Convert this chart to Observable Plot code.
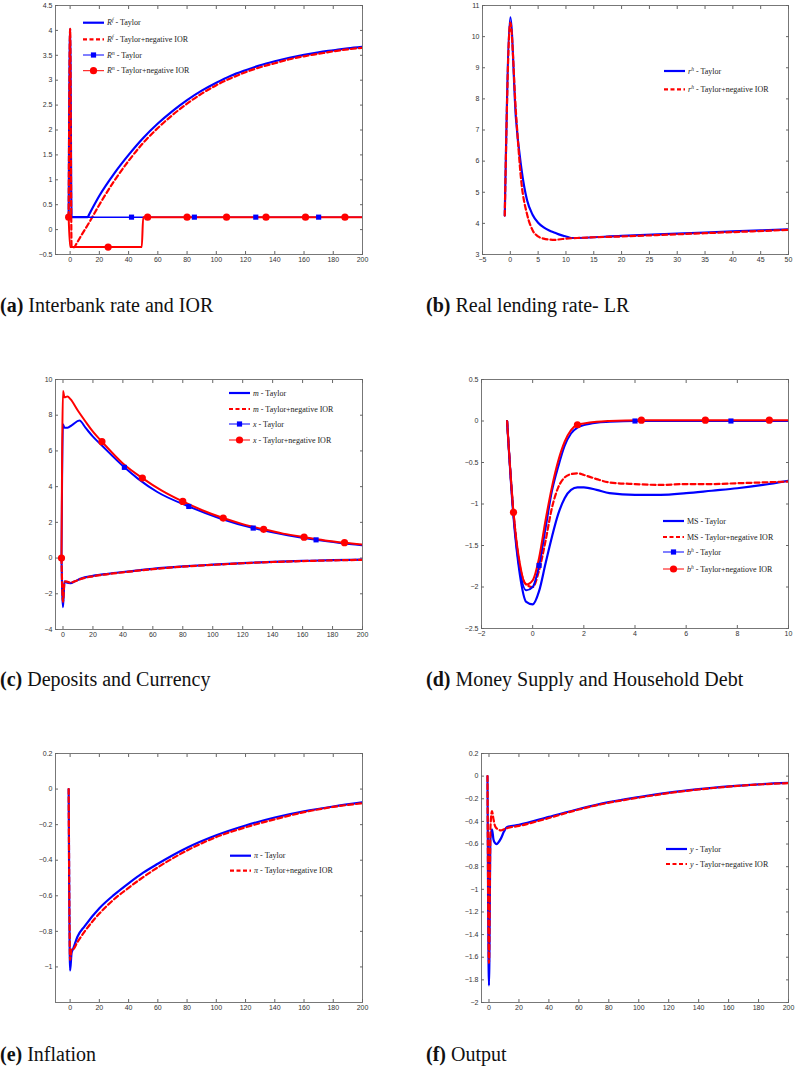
<!DOCTYPE html>
<html>
<head>
<meta charset="utf-8">
<script src="https://cdn.jsdelivr.net/npm/d3@7"></script>
<script src="https://cdn.jsdelivr.net/npm/@observablehq/plot@0.6"></script>
<style>
  body { margin: 0; background: #fff; }
  #wrap { position: relative; width: 796px; height: 1070px; overflow: hidden; }
  .cap { position: absolute; font-family: "Liberation Serif", "DejaVu Serif", serif; font-size: 20px; color: #111; white-space: nowrap; }
  .cap b { font-weight: bold; }
</style>
</head>
<body>
<div id="wrap"></div>
<script>
// ---- (a) Interbank rate and IOR
const aRfTaylorT = [-1, 0, 1, 12, 13, 20, 30, 40, 50, 60, 70, 80, 90, 100, 110, 120, 130, 140, 150, 160, 170, 180, 190, 200]
const aRfTaylor  = [0.25, 4.03, 0.25, 0.25, 0.305, 0.68, 1.12, 1.5, 1.84, 2.13, 2.38, 2.6, 2.79, 2.95, 3.09, 3.2, 3.3, 3.38, 3.45, 3.51, 3.56, 3.6, 3.64, 3.67]
const aRfNegT = [-1, 0, 1, 3, 4, 8, 13, 20, 30, 40, 50, 60, 70, 80, 90, 100, 110, 120, 130, 140, 150, 160, 170, 180, 190, 200]
const aRfNeg  = [0.25, 4.03, -0.35, -0.35, -0.3, -0.1, 0.14, 0.5, 0.97, 1.38, 1.74, 2.04, 2.3, 2.53, 2.73, 2.9, 3.04, 3.16, 3.26, 3.34, 3.42, 3.48, 3.53, 3.58, 3.62, 3.65]
const aRnTaylorT = [-1, 42, 85, 127, 170, 200]
const aRnTaylor  = [0.25, 0.25, 0.25, 0.25, 0.25, 0.25]
const aRnTaylorMarks = [42, 85, 127, 170]
const aRnNegT = [-1, 0, 26, 49, 50, 53, 80, 107, 134, 161, 188, 200]
const aRnNeg  = [0.25, -0.35, -0.35, -0.35, 0.25, 0.25, 0.25, 0.25, 0.25, 0.25, 0.25, 0.25]
const aRnNegMarks = [-1, 26, 53, 80, 107, 134, 161, 188]
const aXTicks = [0, 20, 40, 60, 80, 100, 120, 140, 160, 180, 200]
const aYTicks = [-0.5, 0, 0.5, 1, 1.5, 2, 2.5, 3, 3.5, 4, 4.5]

// ---- (b) Real lending rate
const bTaylorT = [-1, 0, 1, 2, 3, 4, 5, 6, 7, 8, 9, 10, 11, 20, 30, 40, 50]
const bTaylor  = [4.25, 10.62, 7.4, 5.75, 4.75, 4.28, 4.02, 3.87, 3.77, 3.7, 3.63, 3.58, 3.53, 3.6, 3.67, 3.74, 3.81]
const bNegT = [-1, 0, 1, 2, 3, 4, 5, 6, 7, 8, 9, 10, 12, 20, 30, 40, 50]
const bNeg  = [4.25, 10.45, 7.6, 5.3, 4.3, 3.78, 3.58, 3.51, 3.48, 3.47, 3.49, 3.51, 3.53, 3.58, 3.65, 3.72, 3.79]
const bXTicks = [-5, 0, 5, 10, 15, 20, 25, 30, 35, 40, 45, 50]
const bYTicks = [3, 4, 5, 6, 7, 8, 9, 10, 11]

// ---- (c) Deposits and Currency
const cMTaylorT = [-1, 0, 1, 2, 5, 8, 12, 20, 30, 40, 60, 80, 100, 120, 140, 160, 180, 200]
const cMTaylor  = [0, -2.75, -1.3, -1.35, -1.4, -1.3, -1.15, -1.0, -0.88, -0.78, -0.6, -0.47, -0.37, -0.28, -0.21, -0.16, -0.12, -0.09]
const cMNeg     = [0, -2.45, -1.35, -1.3, -1.38, -1.3, -1.17, -1.02, -0.9, -0.8, -0.62, -0.48, -0.38, -0.29, -0.22, -0.17, -0.13, -0.1]
const cXTaylorT = [-1, 0, 1, 3, 6, 11, 15, 20, 26, 41, 50, 63, 84, 105, 127, 150, 169, 185, 200]
const cXTaylor  = [0, 7.5, 7.3, 7.3, 7.45, 7.7, 7.3, 6.8, 6.3, 5.08, 4.45, 3.7, 2.89, 2.22, 1.68, 1.28, 1.02, 0.85, 0.72]
const cXTaylorMarks = [41, 84, 127, 169]
const cXNegT = [-1, 0, 1, 3, 5, 10, 15, 20, 26, 40, 53, 66, 80, 93, 107, 120, 134, 147, 161, 175, 188, 200]
const cXNeg  = [0, 9.35, 9.0, 9.05, 8.9, 8.25, 7.65, 7.08, 6.52, 5.3, 4.48, 3.78, 3.17, 2.68, 2.24, 1.9, 1.61, 1.37, 1.17, 0.99, 0.86, 0.76]
const cXNegMarks = [-1, 26, 53, 80, 107, 134, 161, 188]
const cXTicks = [0, 20, 40, 60, 80, 100, 120, 140, 160, 180, 200]
const cYTicks = [-4, -2, 0, 2, 4, 6, 8, 10]

// ---- (d) Money Supply and Household Debt
const dT = [-1, -0.75, -0.5, -0.25, 0, 0.25, 0.5, 0.75, 1, 1.25, 1.5, 1.75, 2, 2.5, 3, 4, 5, 6, 7, 8, 9, 10]
const dMSTaylor = [0, -1.15, -1.85, -2.18, -2.21, -2.05, -1.72, -1.4, -1.12, -0.93, -0.83, -0.8, -0.8, -0.83, -0.87, -0.89, -0.89, -0.87, -0.84, -0.81, -0.77, -0.72]
const dMSNeg    = [0, -1.1, -1.75, -1.97, -2.0, -1.8, -1.45, -1.05, -0.8, -0.68, -0.64, -0.63, -0.65, -0.7, -0.74, -0.76, -0.77, -0.76, -0.76, -0.75, -0.74, -0.73]
const dBTaylorT = [-1, -0.75, -0.5, -0.25, 0, 0.25, 0.5, 0.75, 1, 1.25, 1.5, 1.75, 2, 2.5, 3, 4, 5, 6, 7.75, 10]
const dBTaylor  = [0, -1.12, -1.8, -2.04, -2.0, -1.74, -1.3, -0.85, -0.55, -0.3, -0.15, -0.08, -0.05, -0.02, -0.01, 0.0, 0.0, 0.0, 0.0, 0.0]
const dBTaylorMarks = [0.25, 4, 7.75]
const dBNegT = [-1, -0.75, -0.5, -0.25, 0, 0.25, 0.5, 0.75, 1, 1.25, 1.5, 1.75, 2, 2.5, 3, 4.25, 5, 6.75, 8, 9.25, 10]
const dBNeg  = [0, -1.1, -1.72, -1.97, -1.92, -1.65, -1.2, -0.8, -0.48, -0.25, -0.11, -0.045, -0.03, -0.01, 0.0, 0.01, 0.01, 0.01, 0.01, 0.01, 0.01]
const dBNegMarks = [-0.75, 1.75, 4.25, 6.75, 9.25]
const dXTicks = [-2, 0, 2, 4, 6, 8, 10]
const dYTicks = [-2.5, -2, -1.5, -1, -0.5, 0, 0.5]

// ---- (e) Inflation
const eT = [-1, 0, 1, 2, 5, 10, 20, 30, 40, 50, 60, 80, 100, 120, 140, 160, 180, 200]
const eTaylor = [0, -1.02, -0.92, -0.9, -0.83, -0.77, -0.67, -0.595, -0.53, -0.47, -0.42, -0.33, -0.26, -0.205, -0.16, -0.125, -0.098, -0.075]
const eNeg    = [0, -0.96, -0.9, -0.9, -0.86, -0.8, -0.7, -0.62, -0.555, -0.495, -0.44, -0.345, -0.27, -0.215, -0.17, -0.13, -0.1, -0.08]
const eXTicks = [0, 20, 40, 60, 80, 100, 120, 140, 160, 180, 200]
const eYTicks = [-1, -0.8, -0.6, -0.4, -0.2, 0, 0.2]

// ---- (f) Output
const fT = [-1, 0, 1, 2, 3, 4, 5, 6, 8, 10, 12, 20, 40, 60, 80, 100, 120, 140, 160, 180, 200]
const fTaylor = [0, -1.85, -0.55, -0.47, -0.56, -0.59, -0.6, -0.59, -0.55, -0.49, -0.45, -0.43, -0.36, -0.29, -0.23, -0.185, -0.145, -0.115, -0.09, -0.072, -0.06]
const fNeg    = [0, -1.65, -0.45, -0.31, -0.38, -0.44, -0.46, -0.47, -0.48, -0.47, -0.46, -0.44, -0.37, -0.295, -0.235, -0.19, -0.15, -0.118, -0.093, -0.074, -0.062]
const fXTicks = [0, 20, 40, 60, 80, 100, 120, 140, 160, 180, 200]
const fYTicks = [-2, -1.8, -1.6, -1.4, -1.2, -1, -0.8, -0.6, -0.4, -0.2, 0, 0.2]

const blue = "#0000ff", red = "#ff0000"
const series = (ts, vs) => ts.map((t, i) => ({t, v: vs[i]}))
const only = (data, marks) => data.filter(d => marks.includes(d.t))
const fmt = d3.format("~g")

const solid = (data, color, w = 2.2) => Plot.line(data, {x: "t", y: "v", stroke: color, strokeWidth: w, curve: "monotone-x", clip: true})
const dashed = (data, color) => Plot.line(data, {x: "t", y: "v", stroke: color, strokeWidth: 2.2, strokeDasharray: "5,3", curve: "monotone-x", clip: true})
const squares = (data, color) => Plot.dot(data, {x: "t", y: "v", symbol: "square", fill: color, r: 2.9})
const circles = (data, color) => Plot.dot(data, {x: "t", y: "v", symbol: "circle", fill: color, r: 3.6})

const wrap = document.getElementById("wrap")
const mL = 36, mR = 8, mT = 6, mB = 16

function panel(p) {
  const ax = {tickSize: -3, tickPadding: 6, stroke: "#666", fill: "#333", label: null}
  const chart = Plot.plot({
    width: p.fw + mL + mR,
    height: p.fh + mT + mB,
    marginLeft: mL, marginRight: mR, marginTop: mT, marginBottom: mB,
    style: {fontFamily: "'Liberation Sans', Arial, sans-serif", fontSize: "7px", background: "transparent", overflow: "visible"},
    x: {domain: p.xDomain},
    y: {domain: p.yDomain},
    marks: [
      Plot.frame({stroke: "#777"}),
      Plot.axisX({...ax, ticks: p.xTicks, tickFormat: fmt}),
      Plot.axisX({...ax, anchor: "top", ticks: p.xTicks, tickFormat: () => ""}),
      Plot.axisY({...ax, ticks: p.yTicks, tickFormat: fmt}),
      Plot.axisY({...ax, anchor: "right", ticks: p.yTicks, tickFormat: () => ""}),
      ...p.marks
    ]
  })
  chart.style.position = "absolute"
  chart.style.left = (p.left - mL) + "px"
  chart.style.top = (p.top - mT) + "px"
  wrap.append(chart)

  // in-axes legend, MATLAB style (no box)
  const ox = p.left - mL, oy = p.top - mT
  const g = d3.select(chart).append("g")
    .attr("font-family", "'Liberation Serif', 'DejaVu Serif', serif")
    .attr("font-size", 8).attr("fill", "#222").attr("text-anchor", "start")
  p.legend.items.forEach((it, i) => {
    const x0 = p.legend.x - ox, y = p.legend.rows[i] - oy, x1 = x0 + 21
    const ln = g.append("line").attr("x1", x0).attr("x2", x1).attr("y1", y).attr("y2", y)
      .attr("stroke", it.color).attr("stroke-width", it.kind === "solid" || it.kind === "dashed" ? 2.2 : 1)
    if (it.kind === "dashed") ln.attr("stroke-dasharray", "4,2.5")
    if (it.kind === "square") g.append("rect").attr("x", (x0 + x1) / 2 - 2.6).attr("y", y - 2.6).attr("width", 5.2).attr("height", 5.2).attr("fill", it.color)
    if (it.kind === "circle") g.append("circle").attr("cx", (x0 + x1) / 2).attr("cy", y).attr("r", 3.6).attr("fill", it.color)
    const t = g.append("text").attr("x", x1 + 3).attr("y", y).attr("dy", "0.32em")
    if (it.upright) t.append("tspan").text(it.upright)
    else t.append("tspan").attr("font-style", "italic").text(it.sym)
    if (it.sup) t.append("tspan").attr("font-style", "italic").attr("font-size", 5.5).attr("dy", -3).text(it.sup)
    t.append("tspan").attr("dy", it.sup ? 3 : 0).text(" - " + it.text)
  })
}

function caption(letter, text, x, y) {
  const d = document.createElement("div")
  d.className = "cap"
  d.style.left = x + "px"
  d.style.top = y + "px"
  d.innerHTML = `<b>(${letter})</b> ${text}`
  wrap.append(d)
}

// (a)
const aRnT = series(aRnTaylorT, aRnTaylor), aRnN = series(aRnNegT, aRnNeg)
panel({
  left: 55, top: 5, fw: 307, fh: 249, xDomain: [-10, 200], yDomain: [-0.5, 4.5], xTicks: aXTicks, yTicks: aYTicks,
  marks: [
    solid(series(aRfTaylorT, aRfTaylor), blue),
    dashed(series(aRfNegT, aRfNeg), red),
    solid(aRnT, blue, 1.5),
    solid(aRnN, red, 2),
    squares(only(aRnT, aRnTaylorMarks), blue),
    circles(only(aRnN, aRnNegMarks), red)
  ],
  legend: {x: 83, rows: [22.7, 39.3, 55, 70.7], items: [
    {kind: "solid", color: blue, sym: "R", sup: "f", text: "Taylor"},
    {kind: "dashed", color: red, sym: "R", sup: "f", text: "Taylor+negative IOR"},
    {kind: "square", color: blue, sym: "R", sup: "n", text: "Taylor"},
    {kind: "circle", color: red, sym: "R", sup: "n", text: "Taylor+negative IOR"}
  ]}
})
caption("a", "Interbank rate and IOR", 0, 294)

// (b)
panel({
  left: 482, top: 5, fw: 306, fh: 249, xDomain: [-5, 50], yDomain: [3, 11], xTicks: bXTicks, yTicks: bYTicks,
  marks: [
    solid(series(bTaylorT, bTaylor), blue),
    dashed(series(bNegT, bNeg), red)
  ],
  legend: {x: 664, rows: [71, 89.3], items: [
    {kind: "solid", color: blue, sym: "r", sup: "h", text: "Taylor"},
    {kind: "dashed", color: red, sym: "r", sup: "h", text: "Taylor+negative IOR"}
  ]}
})
caption("b", "Real lending rate- LR", 426, 294)

// (c)
const cXT = series(cXTaylorT, cXTaylor), cXN = series(cXNegT, cXNeg)
panel({
  left: 55, top: 379, fw: 307, fh: 250, xDomain: [-5, 200], yDomain: [-4, 10], xTicks: cXTicks, yTicks: cYTicks,
  marks: [
    solid(series(cMTaylorT, cMTaylor), blue),
    dashed(series(cMTaylorT, cMNeg), red),
    solid(cXT, blue, 2),
    solid(cXN, red, 2),
    squares(only(cXT, cXTaylorMarks), blue),
    circles(only(cXN, cXNegMarks), red)
  ],
  legend: {x: 229, rows: [393, 409, 424, 440], items: [
    {kind: "solid", color: blue, sym: "m", text: "Taylor"},
    {kind: "dashed", color: red, sym: "m", text: "Taylor+negative IOR"},
    {kind: "square", color: blue, sym: "x", text: "Taylor"},
    {kind: "circle", color: red, sym: "x", text: "Taylor+negative IOR"}
  ]}
})
caption("c", "Deposits and Currency", 0, 668)

// (d)
const dBT = series(dBTaylorT, dBTaylor), dBN = series(dBNegT, dBNeg)
panel({
  left: 481, top: 379, fw: 307, fh: 249, xDomain: [-2, 10], yDomain: [-2.5, 0.5], xTicks: dXTicks, yTicks: dYTicks,
  marks: [
    solid(series(dT, dMSTaylor), blue),
    dashed(series(dT, dMSNeg), red),
    solid(dBT, blue, 2),
    solid(dBN, red, 2),
    squares(only(dBT, dBTaylorMarks), blue),
    circles(only(dBN, dBNegMarks), red)
  ],
  legend: {x: 663, rows: [521, 537, 552, 569], items: [
    {kind: "solid", color: blue, upright: "MS", text: "Taylor"},
    {kind: "dashed", color: red, upright: "MS", text: "Taylor+negative IOR"},
    {kind: "square", color: blue, sym: "b", sup: "h", text: "Taylor"},
    {kind: "circle", color: red, sym: "b", sup: "h", text: "Taylor+negatiove IOR"}
  ]}
})
caption("d", "Money Supply and Household Debt", 426, 668)

// (e)
panel({
  left: 55, top: 753, fw: 307, fh: 249, xDomain: [-10, 200], yDomain: [-1.2, 0.2], xTicks: eXTicks, yTicks: eYTicks,
  marks: [
    solid(series(eT, eTaylor), blue),
    dashed(series(eT, eNeg), red)
  ],
  legend: {x: 230, rows: [855.7, 870.7], items: [
    {kind: "solid", color: blue, sym: "π", text: "Taylor"},
    {kind: "dashed", color: red, sym: "π", text: "Taylor+negative IOR"}
  ]}
})
caption("e", "Inflation", 0, 1043)

// (f)
panel({
  left: 481, top: 753, fw: 307, fh: 249, xDomain: [-5, 200], yDomain: [-2, 0.2], xTicks: fXTicks, yTicks: fYTicks,
  marks: [
    solid(series(fT, fTaylor), blue),
    dashed(series(fT, fNeg), red)
  ],
  legend: {x: 666, rows: [849, 864], items: [
    {kind: "solid", color: blue, sym: "y", text: "Taylor"},
    {kind: "dashed", color: red, sym: "y", text: "Taylor+negative IOR"}
  ]}
})
caption("f", "Output", 426, 1043)
</script>
</body>
</html>
